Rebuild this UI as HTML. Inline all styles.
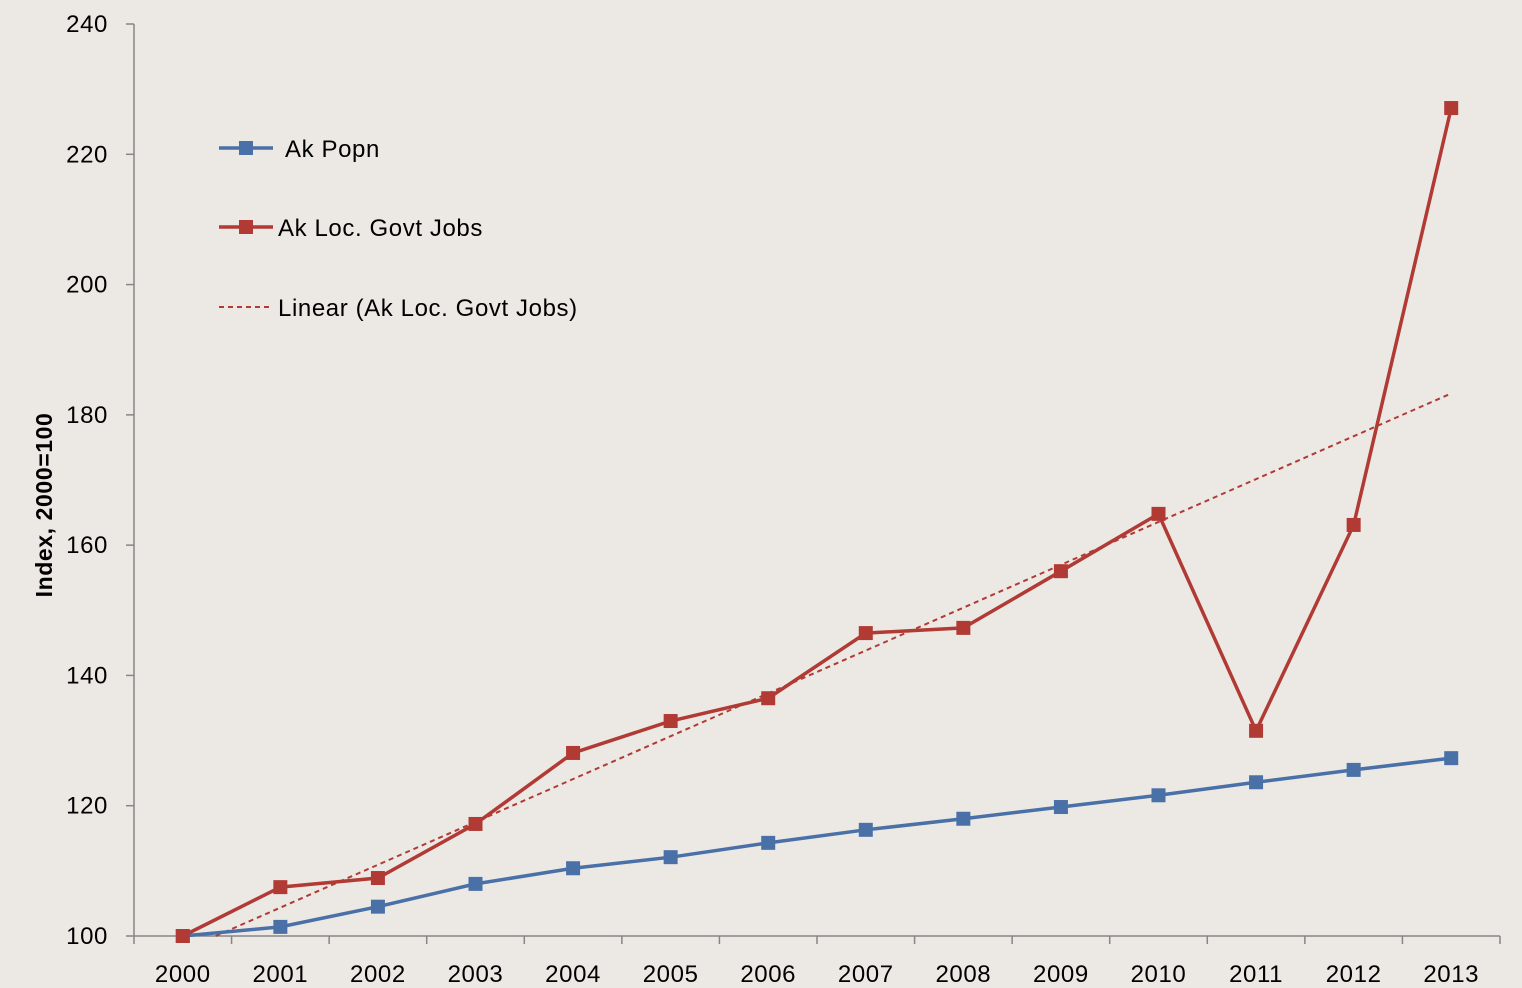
<!DOCTYPE html>
<html><head><meta charset="utf-8"><style>
html,body{margin:0;padding:0;background:#ece9e5;}
svg{display:block;font-family:"Liberation Sans",sans-serif;}
</style></head><body>
<svg id="chart" width="1522" height="988">
<rect width="1522" height="988" fill="#ece9e5"/>
<g id="axes"></g><g id="series"></g>
<text transform="translate(52,505) rotate(-90)" text-anchor="middle" font-size="23" letter-spacing="0.6" font-weight="bold" fill="#000">Index, 2000=100</text>
<g>
<g><line x1="219" y1="148" x2="273" y2="148" stroke="#4a70a8" stroke-width="3.5"/><rect x="239" y="141" width="14" height="14" fill="#4a70a8"/><text x="285" y="157" font-size="24" letter-spacing="0.6">Ak Popn</text></g>
<g><line x1="219" y1="227" x2="273" y2="227" stroke="#b13a34" stroke-width="3.5"/><rect x="239" y="220" width="14" height="14" fill="#b13a34"/><text x="278" y="236" font-size="24" letter-spacing="0.6">Ak Loc. Govt Jobs</text></g>
<g><line x1="219" y1="307" x2="273" y2="307" stroke="#b13a34" stroke-width="2" stroke-dasharray="5,4"/><text x="278" y="316" font-size="24" letter-spacing="0.6">Linear (Ak Loc. Govt Jobs)</text></g>
</g>
</svg>
<script>
const years=["2000","2001","2002","2003","2004","2005","2006","2007","2008","2009","2010","2011","2012","2013"];
const popn=[100,101.4,104.5,108.0,110.4,112.1,114.3,116.3,118.0,119.8,121.6,123.6,125.5,127.3];
const jobs=[100,107.5,108.9,117.2,128.1,133.0,136.5,146.5,147.3,156.0,164.8,131.5,163.1,227.1];
const yTicks=[100,120,140,160,180,200,220,240];
const NS="http://www.w3.org/2000/svg";
const X0=134,X1=1500,Y0=936,Y1=24,YMIN=100,YMAX=240;
const bw=(X1-X0)/years.length;
const xs=i=>X0+bw*(i+0.5);
const ys=v=>Y0-(v-YMIN)/(YMAX-YMIN)*(Y0-Y1);
function mk(t,a,p){const e=document.createElementNS(NS,t);for(const k in a)e.setAttribute(k,a[k]);p.appendChild(e);return e;}
const ax=document.getElementById('axes'),se=document.getElementById('series');
let e=mk('line',{x1:X0,y1:Y1,x2:X0,y2:Y0,stroke:'#868686','stroke-width':1.5},ax);


e=mk('line',{x1:X0,y1:Y0,x2:X1,y2:Y0,stroke:'#868686','stroke-width':1.5},ax);


yTicks.forEach(v=>{mk('line',{x1:X0-8,y1:ys(v),x2:X0,y2:ys(v),stroke:'#868686','stroke-width':1.5},ax);
const t=mk('text',{x:108,y:ys(v)+8,'text-anchor':'end','font-size':24,'letter-spacing':0.6},ax);t.textContent=v;

});
for(let i=0;i<=years.length;i++)mk('line',{x1:X0+bw*i,y1:Y0,x2:X0+bw*i,y2:Y0+8,stroke:'#868686','stroke-width':1.5},ax);
years.forEach((y,i)=>{const t=mk('text',{x:xs(i),y:982,'text-anchor':'middle','font-size':24,'letter-spacing':0.6},ax);t.textContent=y;

});
const n=jobs.length;let sx=0,sy=0,sxy=0,sxx=0;jobs.forEach((v,i)=>{sx+=i;sy+=v;sxy+=i*v;sxx+=i*i;});
const b=(n*sxy-sx*sy)/(n*sxx-sx*sx),a=(sy-b*sx)/n;
let ts=0; if(a<YMIN) ts=(YMIN-a)/b;
e=mk('line',{x1:X0+bw*(ts+0.5),y1:ys(a+b*ts),x2:xs(n-1),y2:ys(a+b*(n-1)),stroke:'#b13a34','stroke-width':2,'stroke-dasharray':'5,4'},se);


function series(d,c,name){
const p=mk('polyline',{points:d.map((v,i)=>xs(i)+','+ys(v)).join(' '),fill:'none',stroke:c,'stroke-width':3.5},se);


d.forEach((v,i)=>{const r=mk('rect',{x:xs(i)-7,y:ys(v)-7,width:14,height:14,fill:c},se);

});}
series(popn,'#4a70a8','popn');
series(jobs,'#b13a34','jobs');
</script>
</body></html>
